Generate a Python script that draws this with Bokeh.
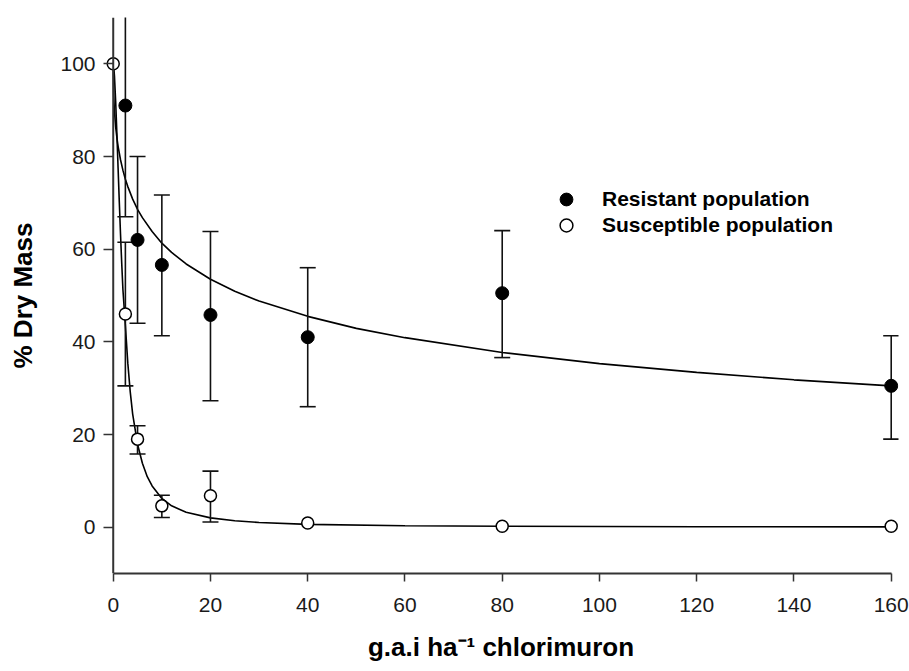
from bokeh.plotting import figure
from bokeh.models import Range1d, FixedTicker, Legend, LegendItem, Span
from bokeh.embed import file_html
from bokeh.resources import INLINE

# ---- data ----
res_x = [2.5, 5, 10, 20, 40, 80, 160]
res_y = [91, 62, 56.6, 45.8, 41, 50.5, 30.5]
res_lo = [67, 44, 41.3, 27.3, 26, 36.6, 19]
res_hi = [115, 80, 71.7, 63.8, 56, 64, 41.3]

sus_x = [0, 2.5, 5, 10, 20, 40, 80, 160]
sus_y = [100, 46, 19, 4.6, 6.8, 0.9, 0.2, 0.2]
sus_err_x = [2.5, 5, 10, 20]
sus_lo = [30.5, 15.8, 2.1, 1.1]
sus_hi = [61.5, 21.9, 6.9, 12.1]

# fitted curves
res_curve_x = [0, 0.1, 0.25, 0.5, 0.75, 1, 1.5, 2, 2.5, 3, 4, 5, 6, 8, 10, 12, 15,
               20, 25, 30, 40, 50, 60, 80, 100, 120, 140, 160]
res_curve_y = [100, 93.1, 89.8, 86.4, 84.1, 82.2, 79.3, 77.0, 75.1, 73.5, 70.8, 68.6,
               66.8, 63.8, 61.3, 59.3, 56.8, 53.5, 50.9, 48.8, 45.5, 42.9, 40.9, 37.7,
               35.3, 33.4, 31.8, 30.5]
sus_curve_x = [0, 0.1, 0.25, 0.5, 0.75, 1, 1.25, 1.5, 1.75, 2, 2.5, 3, 3.5, 4, 5, 6, 7,
               8, 10, 12, 15, 20, 25, 30, 40, 60, 80, 120, 160]
sus_curve_y = [100, 99.4, 97.4, 91.9, 85.0, 77.5, 70.2, 63.2, 56.9, 51.2, 43.5, 35.4,
               29.2, 24.4, 17.9, 13.8, 10.9, 8.9, 6.2, 4.6, 3.2, 2.0, 1.4, 1.0, 0.6,
               0.3, 0.19, 0.09, 0.06]

x_ticks = [0, 20, 40, 60, 80, 100, 120, 140, 160]
y_ticks = [0, 20, 40, 60, 80, 100]

x_title = "g.a.i ha\u207b\u00b9 chlorimuron"
y_title = "% Dry Mass"
legend_labels = ["Resistant population", "Susceptible population"]

FONT = "Liberation Sans"
AX = "#333333"

p = figure(width=909, height=671, output_backend="svg", toolbar_location=None,
           x_range=Range1d(-2, 161.5), y_range=Range1d(-10, 110),
           min_border_left=103, min_border_right=11, min_border_top=17,
           min_border_bottom=98)
p.grid.visible = False
p.outline_line_color = None
p.background_fill_color = "white"
p.border_fill_color = "white"

# curves
p.line(res_curve_x, res_curve_y, line_color="black", line_width=1.6)
p.line(sus_curve_x, sus_curve_y, line_color="black", line_width=1.6)

# error bars
EB = dict(line_color="#111111", line_width=1.6)
p.segment(x0=res_x, y0=res_lo, x1=res_x, y1=res_hi, **EB)
p.scatter(res_x, res_lo, marker="dash", size=16, **EB)
p.scatter(res_x, res_hi, marker="dash", size=16, **EB)
p.segment(x0=sus_err_x, y0=sus_lo, x1=sus_err_x, y1=sus_hi, **EB)
p.scatter(sus_err_x, sus_lo, marker="dash", size=16, **EB)
p.scatter(sus_err_x, sus_hi, marker="dash", size=16, **EB)

# y axis line at x = 0
p.add_layout(Span(location=0, dimension="height", line_color=AX, line_width=2))

# points
r_res = p.scatter(res_x, res_y, marker="circle", size=13, fill_color="black",
                  line_color="black", line_width=1)
r_sus = p.scatter(sus_x, sus_y, marker="circle", size=12, fill_color="white",
                  line_color="black", line_width=1.5)

# x axis
xa = p.xaxis[0]
xa.ticker = FixedTicker(ticks=x_ticks)
xa.bounds = (0, 160)
xa.axis_line_color = AX
xa.axis_line_width = 2
xa.major_tick_line_color = AX
xa.major_tick_line_width = 1.5
xa.major_tick_out = 8
xa.major_tick_in = 0
xa.minor_tick_line_color = None
xa.major_label_text_font = FONT
xa.major_label_text_font_size = "21px"
xa.major_label_text_color = "#1a1a1a"
xa.major_label_standoff = 16
xa.axis_label = x_title
xa.axis_label_text_font = FONT
xa.axis_label_text_font_size = "26px"
xa.axis_label_text_font_style = "bold"
xa.axis_label_text_color = "black"
xa.axis_label_standoff = 17

# y axis: ticks reach from the frame edge to x = 0, labels and title at left
ya = p.yaxis[0]
ya.ticker = FixedTicker(ticks=y_ticks)
ya.axis_line_color = None
ya.major_tick_line_color = AX
ya.major_tick_line_width = 1.5
ya.major_tick_out = 0
ya.major_tick_in = 10
ya.minor_tick_line_color = None
ya.major_label_text_font = FONT
ya.major_label_text_font_size = "21px"
ya.major_label_text_color = "#1a1a1a"
ya.major_label_standoff = 8
ya.axis_label = y_title
ya.axis_label_text_font = FONT
ya.axis_label_text_font_size = "26px"
ya.axis_label_text_font_style = "bold"
ya.axis_label_text_color = "black"
ya.axis_label_standoff = 19

# legend (one per entry so the glyphs match the plotted marker size)
leg_kw = dict(padding=0, margin=0, spacing=0, glyph_width=32, glyph_height=32,
              label_height=32, label_standoff=20, border_line_color=None,
              background_fill_alpha=0, label_text_font=FONT,
              label_text_font_size="21px", label_text_font_style="bold",
              label_text_color="black")
p.add_layout(Legend(items=[LegendItem(label=legend_labels[0], renderers=[r_res])],
                    location=(447, 358), **leg_kw))
p.add_layout(Legend(items=[LegendItem(label=legend_labels[1], renderers=[r_sus])],
                    location=(447, 332), **leg_kw))

open("out.html", "w").write(file_html(p, INLINE))
